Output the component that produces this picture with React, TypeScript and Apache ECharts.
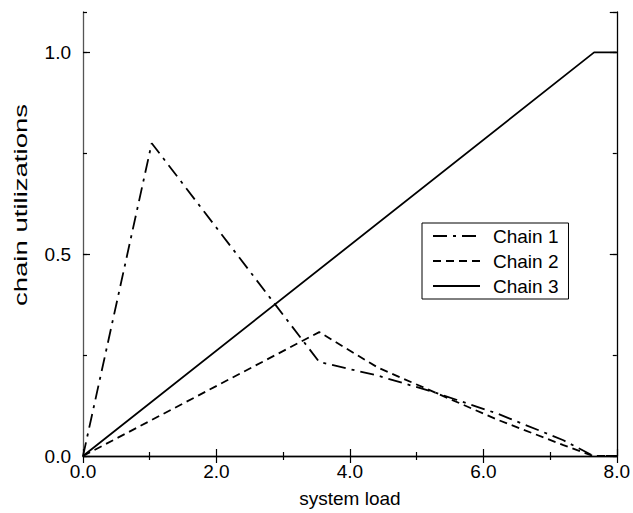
import React, { useEffect, useRef } from "react";
import * as echarts from "echarts";

const seriesNames = ["Chain 1", "Chain 2", "Chain 3"];
const chain1: [number, number][] = [
  [0, 0], [1.03, 0.775], [3.54, 0.233], [4.42, 0.199], [5.28, 0.157], [6.21, 0.105], [7.2, 0.039], [7.65, 0], [8, 0],
];
const chain2: [number, number][] = [
  [0, 0], [3.54, 0.307], [4.42, 0.219], [5.28, 0.157], [6.21, 0.09], [7.2, 0.027], [7.65, 0], [8, 0],
];
const chain3: [number, number][] = [
  [0, 0], [7.66, 1.0], [8, 1.0],
];
const xTitle = "system load";
const yTitle = "chain utilizations";

const FONT = "Liberation Sans, Arial, sans-serif";

export default function App() {
  const ref = useRef<HTMLDivElement>(null);
  useEffect(() => {
    if (!ref.current) return;
    const chart = echarts.init(ref.current, null, { renderer: "svg" });
    const fmt = (v: number) => v.toFixed(1);
    const grayLine = { show: true, lineStyle: { color: "#555", width: 1.3 } };
    const blackLine = { show: true, lineStyle: { color: "#000", width: 1.3 } };
    chart.setOption({
      animation: false,
      backgroundColor: "#fff",
      textStyle: { fontFamily: FONT },
      grid: { left: 83, right: 13, top: 12, bottom: 54, containLabel: false },
      legend: {
        orient: "vertical",
        left: 422,
        top: 223,
        padding: [3, 10, 3, 10],
        itemGap: 5,
        itemWidth: 47,
        itemHeight: 20,
        borderColor: "#000",
        borderWidth: 1,
        backgroundColor: "#fff",
        itemStyle: { opacity: 0 },
        textStyle: { fontSize: 19, color: "#000", fontFamily: FONT, lineHeight: 20, padding: [0, 0, 0, 8] },
        data: seriesNames,
      },
      xAxis: [
        {
          type: "value", position: "bottom", min: 0, max: 8, interval: 2,
          axisLine: grayLine,
          axisTick: { show: true, inside: true, length: 7, lineStyle: { color: "#000", width: 1.2 } },
          minorTick: { show: true, splitNumber: 2, length: 4, lineStyle: { color: "#000", width: 1.2 } },
          splitLine: { show: false },
          axisLabel: { formatter: fmt, fontSize: 19, color: "#000", margin: 6, fontFamily: FONT },
          name: xTitle, nameLocation: "middle", nameGap: 33,
          nameTextStyle: { fontSize: 19, color: "#000", fontFamily: FONT },
        },
        {
          type: "value", position: "top", min: 0, max: 8, interval: 2,
          axisLine: blackLine,
          axisTick: { show: true, inside: true, length: 7, lineStyle: { color: "#000", width: 1.2 } },
          minorTick: { show: true, splitNumber: 2, length: 4, lineStyle: { color: "#000", width: 1.2 } },
          splitLine: { show: false },
          axisLabel: { show: false },
        },
      ],
      yAxis: [
        {
          type: "value", position: "left", min: 0, max: 1.1, interval: 0.5,
          axisLine: grayLine,
          axisTick: { show: true, inside: true, length: 7, lineStyle: { color: "#000", width: 1.2 } },
          splitLine: { show: false },
          axisLabel: { formatter: (v: number) => (v > 1.05 ? "" : fmt(v)), showMaxLabel: false, fontSize: 19, color: "#000", margin: 12, fontFamily: FONT },
        },
        {
          type: "value", position: "left", min: 0, max: 1.1, interval: 0.25,
          axisLine: { show: false },
          axisTick: { show: true, inside: true, length: 4, lineStyle: { color: "#000", width: 1.2 } },
          splitLine: { show: false },
          axisLabel: { show: false },
        },
        {
          type: "value", position: "right", min: 0, max: 1.1, interval: 0.5,
          axisLine: blackLine,
          axisTick: { show: true, inside: true, length: 7, lineStyle: { color: "#000", width: 1.2 } },
          splitLine: { show: false },
          axisLabel: { show: false },
        },
        {
          type: "value", position: "right", min: 0, max: 1.1, interval: 0.25,
          axisLine: { show: false },
          axisTick: { show: true, inside: true, length: 4, lineStyle: { color: "#000", width: 1.2 } },
          splitLine: { show: false },
          axisLabel: { show: false },
        },
      ],
      graphic: [
        {
          type: "text",
          x: 21,
          y: 205,
          rotation: Math.PI / 2,
          scaleX: 1.45,
          style: {
            text: yTitle,
            fontSize: 19,
            fontFamily: FONT,
            fill: "#000",
            textAlign: "center",
            textVerticalAlign: "middle",
          },
        },
      ],
      series: [
        {
          name: seriesNames[0], type: "line", data: chain1, symbol: "none", xAxisIndex: 0, yAxisIndex: 0,
          lineStyle: { color: "#000", width: 1.8, type: [14, 6, 3, 6] },
          itemStyle: { color: "#000" },
        },
        {
          name: seriesNames[1], type: "line", data: chain2, symbol: "none", xAxisIndex: 0, yAxisIndex: 0,
          lineStyle: { color: "#000", width: 1.8, type: [8, 5] },
          itemStyle: { color: "#000" },
        },
        {
          name: seriesNames[2], type: "line", data: chain3, symbol: "none", xAxisIndex: 0, yAxisIndex: 0,
          lineStyle: { color: "#000", width: 1.8, type: "solid" },
          itemStyle: { color: "#000" },
        },
      ],
    });
    return () => chart.dispose();
  }, []);
  return (
    <div
      ref={ref}
      style={{ position: "fixed", left: 0, top: 0, width: 633, height: 513, background: "#fff" }}
    />
  );
}
